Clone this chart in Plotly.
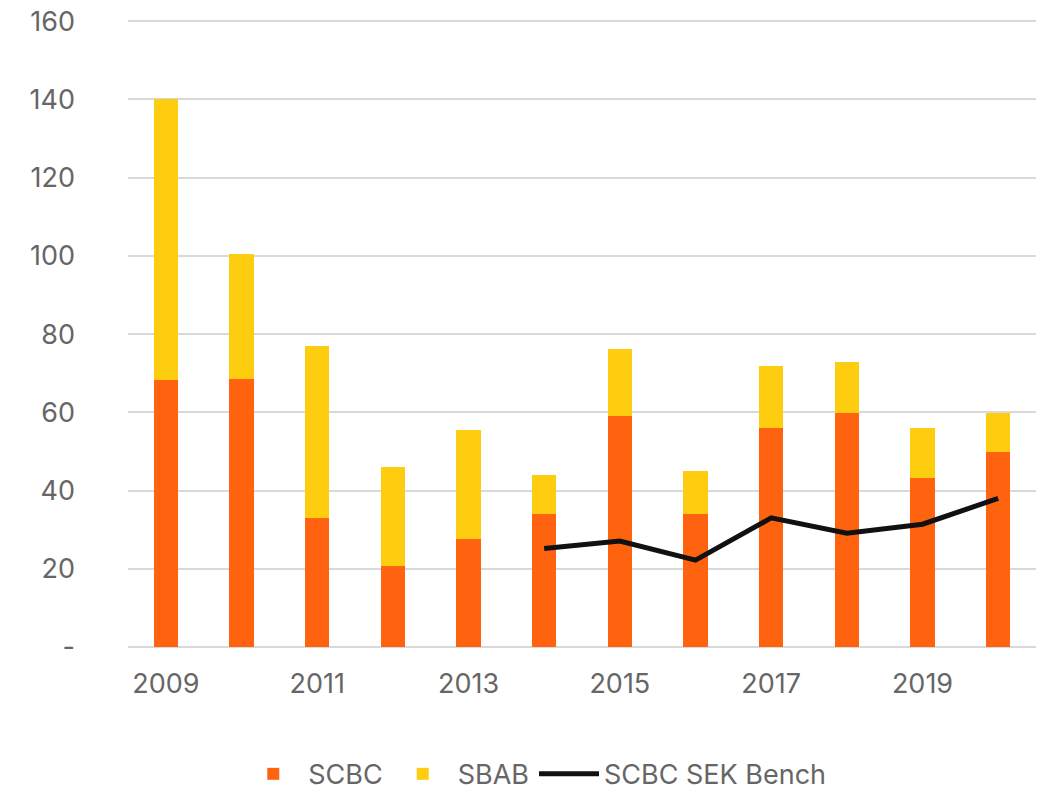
import plotly.graph_objects as go

# Annual issuance volumes by issuer, stacked, plus the SCBC SEK benchmark line
years = [2009, 2010, 2011, 2012, 2013, 2014, 2015, 2016, 2017, 2018, 2019, 2020]
scbc = [68.2, 68.4, 33.0, 20.7, 27.6, 33.9, 59.0, 33.9, 55.9, 59.8, 43.3, 49.8]
sbab = [72.0, 32.2, 43.9, 25.3, 27.9, 10.0, 17.2, 11.0, 16.0, 13.0, 12.6, 10.0]

bench_years = [2014, 2015, 2016, 2017, 2018, 2019, 2020]
bench = [25.2, 27.1, 22.2, 33.0, 29.1, 31.4, 38.0]

y_ticks = [0, 20, 40, 60, 80, 100, 120, 140, 160]
y_tick_text = ["-", "20", "40", "60", "80", "100", "120", "140", "160"]
x_ticks = [2009, 2011, 2013, 2015, 2017, 2019]

FONT = "Inter"
TEXT_COLOR = "#666666"
GRID = "#D9D9D9"

fig = go.Figure()
fig.add_trace(go.Bar(x=years, y=scbc, name="SCBC", marker=dict(color="#FF6310", line=dict(width=0)),
                     width=0.32))
fig.add_trace(go.Bar(x=years, y=sbab, name="SBAB", marker=dict(color="#FFCD0F", line=dict(width=0)),
                     width=0.32))
fig.add_trace(go.Scatter(x=bench_years, y=bench, name="SCBC SEK Bench", mode="lines",
                         line=dict(color="#111111", width=5)))

fig.update_layout(
    width=1048, height=793,
    barmode="stack",
    paper_bgcolor="white", plot_bgcolor="white",
    margin=dict(l=128, r=12, t=20, b=146, autoexpand=False),
    font=dict(family=FONT, size=27, color=TEXT_COLOR),
    showlegend=True,
    legend=dict(orientation="h", x=0.448, xanchor="center", y=-0.203, yanchor="middle",
                font=dict(size=27, color=TEXT_COLOR), traceorder="normal",
                itemwidth=60, bgcolor="rgba(0,0,0,0)"),
)
fig.update_yaxes(range=[0, 160.3], tickvals=y_ticks, ticktext=y_tick_text,
                 showgrid=True, gridcolor=GRID, gridwidth=1.5,
                 zeroline=True, zerolinecolor=GRID, zerolinewidth=1.5,
                 showline=False, ticks="", ticklabelstandoff=52)
fig.update_xaxes(range=[2008.5, 2020.5], tickvals=x_ticks, ticktext=[str(v) for v in x_ticks],
                 showgrid=False, zeroline=False, showline=False, ticks="",
                 ticklabelstandoff=18)

fig.write_html("out.html")
